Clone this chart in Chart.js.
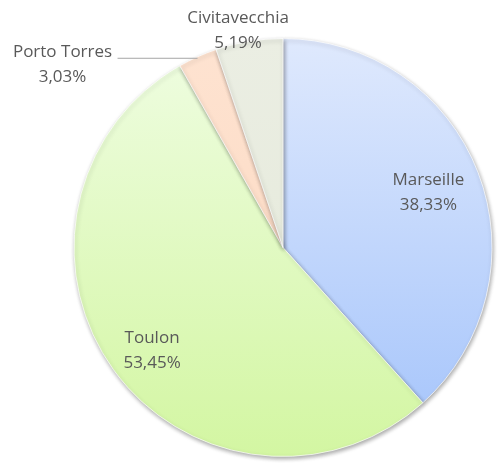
<!DOCTYPE html>
<html>
<head>
<meta charset="utf-8">
<script src="https://cdn.jsdelivr.net/npm/chart.js@4.4.0/dist/chart.umd.min.js"></script>
<style>
    html, body { margin: 0; padding: 0; background: #ffffff; }
    #wrap { width: 498px; height: 463px; position: relative; }
</style>
</head>
<body>
<div id="wrap"><canvas id="pie"></canvas></div>
<script>
var ports = ["Marseille", "Toulon", "Porto Torres", "Civitavecchia"];
var shares = [38.33, 53.45, 3.03, 5.19];
var shareLabels = ["38,33%", "53,45%", "3,03%", "5,19%"];

// top / bottom colours of each slice gradient
var topColors = ["#dfe9fd", "#effde2", "#fee3d1", "#ebeee3"];
var bottomColors = ["#a3c3fb", "#d3f6a2", "#fbd6bd", "#e3e8d8"];

function sliceColor(ctx) {
    var area = ctx.chart.chartArea;
    if (!area) return topColors[ctx.dataIndex];
    var g = ctx.chart.ctx.createLinearGradient(0, area.top, 0, area.bottom);
    g.addColorStop(0, topColors[ctx.dataIndex]);
    g.addColorStop(1, bottomColors[ctx.dataIndex]);
    return g;
}

var pieShadow = {
    id: "pieShadow",
    beforeDatasetDraw: function (chart) {
        var c = chart.ctx;
        c.save();
        c.shadowColor = "rgba(0,0,0,0.35)";
        c.shadowBlur = 4;
        c.shadowOffsetX = 1;
        c.shadowOffsetY = 2;
    },
    afterDatasetDraw: function (chart) {
        chart.ctx.restore();
    }
};

// Excel-like data labels: two inside, two outside with a leader line
var sliceLabels = {
    id: "sliceLabels",
    afterDatasetsDraw: function (chart) {
        var c = chart.ctx;
        var arcs = chart.getDatasetMeta(0).data;
        c.save();
        c.font = "17px 'Open Sans'";
        c.fillStyle = "#595959";
        c.textAlign = "center";
        c.textBaseline = "middle";
        var inside = { 0: 0.745, 1: 0.79 };
        arcs.forEach(function (arc, i) {
            var p = arc.getProps(["x", "y", "startAngle", "endAngle", "outerRadius"], true);
            var mid = (p.startAngle + p.endAngle) / 2;
            var tx, ty;
            if (inside[i] !== undefined) {
                tx = p.x + Math.cos(mid) * p.outerRadius * inside[i];
                ty = p.y + Math.sin(mid) * p.outerRadius * inside[i];
                if (i === 1) { tx += 3; ty += 7; }
                else { ty += 1; }
            } else {
                var ex = p.x + Math.cos(mid) * p.outerRadius;
                var ey = p.y + Math.sin(mid) * p.outerRadius;
                if (i === 2) {
                    tx = ex - 135;
                    ty = ey + 8;
                    c.strokeStyle = "#a6a6a6";
                    c.lineWidth = 1;
                    c.beginPath();
                    c.moveTo(ex, ey + 1.5);
                    c.lineTo(ex - 80, ey + 1.5);
                    c.stroke();
                } else {
                    tx = ex - 11;
                    ty = ey - 10;
                }
            }
            c.fillText(ports[i], tx, ty - 13);
            c.fillText(shareLabels[i], tx, ty + 12);
        });
        c.restore();
    }
};

new Chart(document.getElementById("pie"), {
    type: "pie",
    data: {
        labels: ports,
        datasets: [{
            data: shares,
            backgroundColor: sliceColor,
            borderColor: "rgba(255,255,255,0.7)",
            borderWidth: 1
        }]
    },
    options: {
        responsive: true,
        maintainAspectRatio: false,
        animation: false,
        layout: { padding: { left: 73, right: 5, top: 38, bottom: 6 } },
        plugins: {
            legend: { display: false },
            tooltip: { enabled: false }
        }
    },
    plugins: [pieShadow, sliceLabels]
});
</script>
</body>
</html>
